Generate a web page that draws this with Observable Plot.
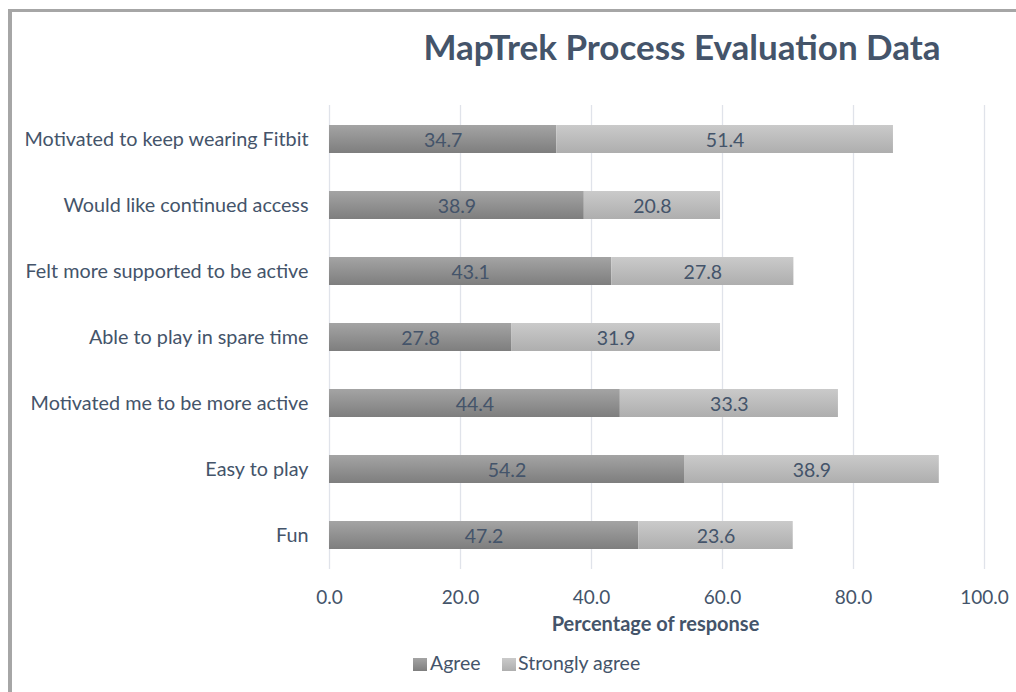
<!DOCTYPE html>
<html>
<head>
<meta charset="utf-8">
<script src="https://cdn.jsdelivr.net/npm/d3@7"></script>
<script src="https://cdn.jsdelivr.net/npm/@observablehq/plot@0.6"></script>
<style>
  html, body { margin: 0; padding: 0; background: #ffffff; }
  #wrap { position: relative; width: 1016px; height: 692px; overflow: hidden; font-family: Lato, "Open Sans", sans-serif; color: #44546A; }
  #frame { position: absolute; left: 8px; top: 9px; width: 1100px; height: 800px; border-top: 3px solid #a6a6a6; border-left: 4px solid #a6a6a6; box-sizing: border-box; }
  #chart { position: absolute; left: 0; top: 0; }
  #title { position: absolute; left: 0; width: 1364px; top: 29px; text-align: center; font-size: 35px; font-weight: 700; line-height: 1; white-space: nowrap; }
  #xlabel { position: absolute; left: 0; width: 1311px; top: 613px; text-align: center; font-size: 20px; font-weight: 700; line-height: 1; white-space: nowrap; }
  .lg { position: absolute; top: 653px; font-size: 19.5px; line-height: 1; white-space: nowrap; }
  .sw { position: absolute; top: 658px; width: 14px; height: 13px; }
</style>
</head>
<body>
<div id="wrap">
  <div id="frame"></div>
  <div id="chart"></div>
  <div id="title">MapTrek Process Evaluation Data</div>
  <div id="xlabel">Percentage of response</div>
  <div id="legend"></div>
</div>
<script>
const categories = [
  "Motivated to keep wearing Fitbit",
  "Would like continued access",
  "Felt more supported to be active",
  "Able to play in spare time",
  "Motivated me to be more active",
  "Easy to play",
  "Fun"
];
const seriesNames = ["Agree", "Strongly agree"];
const agree = [34.7, 38.9, 43.1, 27.8, 44.4, 54.2, 47.2];
const stronglyAgree = [51.4, 20.8, 27.8, 31.9, 33.3, 38.9, 23.6];
const xTicks = [0, 20, 40, 60, 80, 100];

const data = categories.flatMap((c, i) => [
  {category: c, series: seriesNames[0], value: agree[i]},
  {category: c, series: seriesNames[1], value: stronglyAgree[i]}
]);

const textColor = "#44546A";

const chart = Plot.plot({
  width: 1016,
  height: 692,
  marginLeft: 329,
  marginRight: 32,
  marginTop: 105,
  marginBottom: 123,
  style: {fontFamily: "Lato, 'Open Sans', sans-serif", background: "transparent", overflow: "visible"},
  x: {domain: [0, 100]},
  y: {domain: categories, paddingInner: 0.578, paddingOuter: 0.289},
  color: {domain: seriesNames, range: ["url(#gradAgree)", "url(#gradStrong)"]},
  marks: [
    Plot.gridX(xTicks, {stroke: "#e0e3ea", strokeOpacity: 1, strokeWidth: 1.3}),
    Plot.barX(data, Plot.stackX({y: "category", x: "value", fill: "series", order: seriesNames})),
    Plot.text(data, Plot.stackX({y: "category", x: "value", z: "series", order: seriesNames,
      text: d => d.value.toFixed(1), fill: textColor, fontSize: 19.5, dy: 1})),
    Plot.axisX(xTicks, {tickSize: 0, tickPadding: 21, tickFormat: d => d.toFixed(1), fontSize: 19, fill: textColor, label: null}),
    Plot.axisY({tickSize: 0, tickPadding: 21, fontSize: 19.8, fill: textColor, label: null})
  ]
});

const svg = d3.select(chart);
const defs = svg.insert("defs", ":first-child");
function grad(id, c0, c1) {
  const g = defs.append("linearGradient").attr("id", id).attr("x1", 0).attr("y1", 0).attr("x2", 0).attr("y2", 1);
  g.append("stop").attr("offset", "0%").attr("stop-color", c0);
  g.append("stop").attr("offset", "100%").attr("stop-color", c1);
}
grad("gradAgree", "#a4a4a4", "#7e7e7e");
grad("gradStrong", "#cacaca", "#aeaeae");

document.getElementById("chart").appendChild(chart);

// legend
const legend = document.getElementById("legend");
const legendItems = [
  {name: seriesNames[0], sw: 413, tx: 430, bg: "linear-gradient(#a4a4a4, #7e7e7e)"},
  {name: seriesNames[1], sw: 502, tx: 518, bg: "linear-gradient(#cacaca, #aeaeae)"}
];
legendItems.forEach(it => {
  const s = document.createElement("div");
  s.className = "sw"; s.style.left = it.sw + "px"; s.style.background = it.bg;
  legend.appendChild(s);
  const t = document.createElement("div");
  t.className = "lg"; t.style.left = it.tx + "px"; t.textContent = it.name;
  legend.appendChild(t);
});
</script>
</body>
</html>
